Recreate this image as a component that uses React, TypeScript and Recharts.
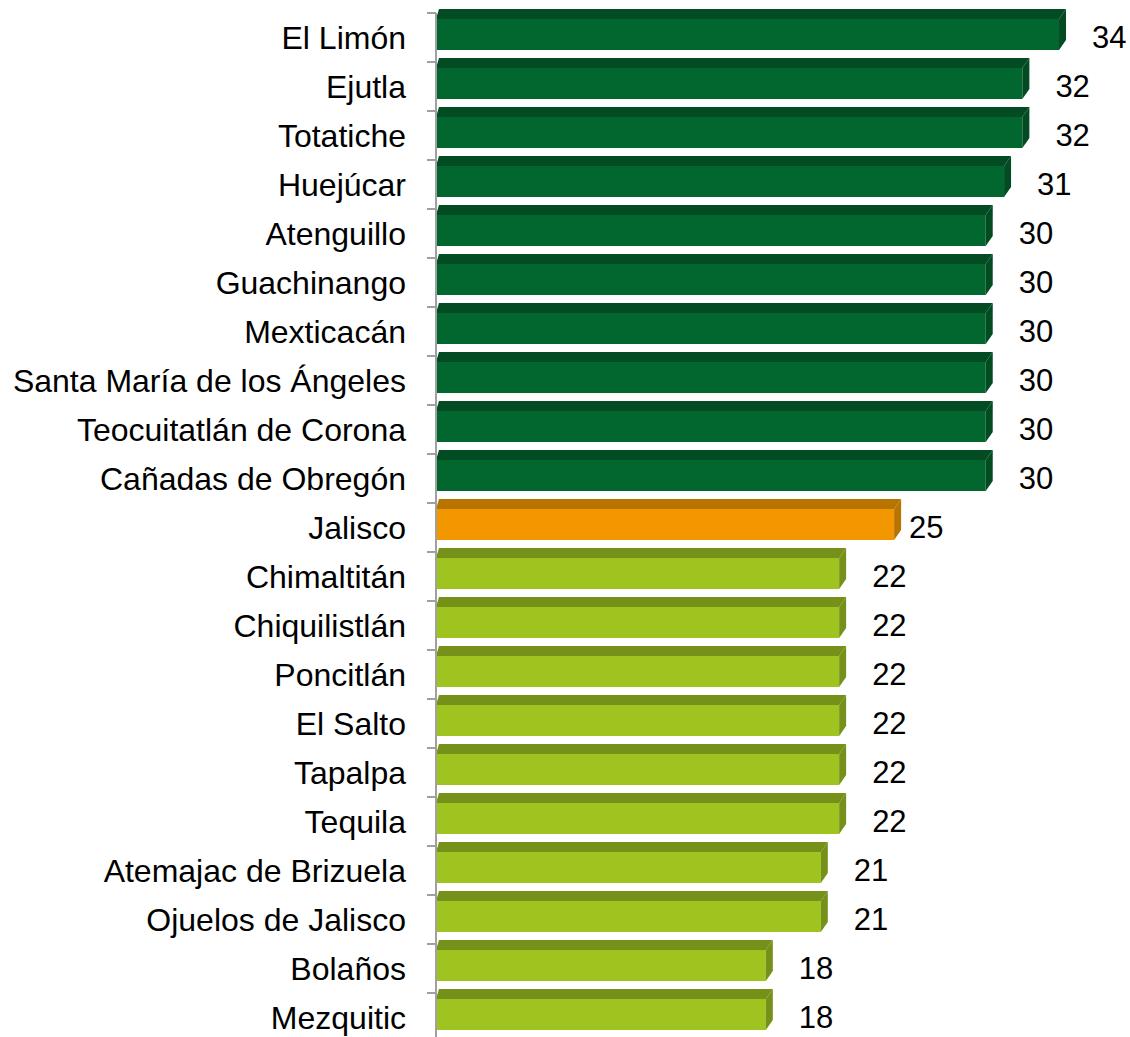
import { Bar, BarChart, Cell, LabelList, XAxis, YAxis } from "recharts"

const municipios = [
  "El Limón",
  "Ejutla",
  "Totatiche",
  "Huejúcar",
  "Atenguillo",
  "Guachinango",
  "Mexticacán",
  "Santa María de los Ángeles",
  "Teocuitatlán de Corona",
  "Cañadas de Obregón",
  "Jalisco",
  "Chimaltitán",
  "Chiquilistlán",
  "Poncitlán",
  "El Salto",
  "Tapalpa",
  "Tequila",
  "Atemajac de Brizuela",
  "Ojuelos de Jalisco",
  "Bolaños",
  "Mezquitic",
]

const valores = [34, 32, 32, 31, 30, 30, 30, 30, 30, 30, 25, 22, 22, 22, 22, 22, 22, 21, 21, 18, 18]

const ESTATAL = "Jalisco"

const data = municipios.map((name, i) => ({ name, value: valores[i] }))
const valorEstatal = valores[municipios.indexOf(ESTATAL)]

// front face / darker top+side face
const colores = {
  arriba: { front: "#02672f", shade: "#034b22" },
  estatal: { front: "#f39700", shade: "#b87400" },
  abajo: { front: "#9fc31f", shade: "#76911a" },
}

function colorDe(name: string, value: number) {
  if (name === ESTATAL) return colores.estatal
  return value > valorEstatal ? colores.arriba : colores.abajo
}

const CHART_W = 1122
const CHART_H = 1040
const AXIS_W = 428
const MARGIN = { top: 5, right: 16, bottom: 6, left: 0 }
const BAND = (CHART_H - MARGIN.top - MARGIN.bottom) / municipios.length
const FONT = "'Liberation Sans', Arial, sans-serif"

const DX = 7
const DY = 10

function Bar3D(props: any) {
  const { x, y, width, height, payload } = props
  const c = colorDe(payload.name, payload.value)
  const fy = y - 3
  const fh = height
  const r = x + width
  return (
    <g>
      <rect x={x} y={fy} width={width} height={fh} fill={c.front} />
      <polygon
        points={`${x},${fy} ${x + 3},${fy - DY} ${r + DX},${fy - DY} ${r},${fy}`}
        fill={c.shade}
      />
      <polygon
        points={`${r},${fy} ${r + DX},${fy - DY} ${r + DX},${fy + fh - DY} ${r},${fy + fh}`}
        fill={c.shade}
      />
    </g>
  )
}

function CategoryTick(props: any) {
  const { x, y, payload } = props
  const axisX = AXIS_W + MARGIN.left
  const top = y - BAND / 2
  return (
    <g>
      <line x1={axisX - 9} y1={top} x2={axisX} y2={top} stroke="#a0a0a0" strokeWidth={2} />
      <text
        x={x}
        y={y}
        dy={11}
        textAnchor="end"
        fontSize={32}
        fontFamily={FONT}
        fill="#000"
      >
        {payload.value}
      </text>
    </g>
  )
}

function ValueLabel(props: any) {
  const { x, y, width, height, value, index } = props
  const gap = municipios[index] === ESTATAL ? 15 : 33
  return (
    <text
      x={x + width + gap}
      y={y + height / 2}
      dy={10}
      fontSize={31}
      fontFamily={FONT}
      fill="#000"
    >
      {value}
    </text>
  )
}

export default function App() {
  // fixed so the taller-than-viewport chart does not add scrollbars
  return (
    <div
      style={{
        position: "fixed",
        top: 8,
        left: 8,
        width: CHART_W,
        height: 1029,
        overflow: "hidden",
        background: "#fff",
      }}
    >
      <BarChart width={CHART_W} height={CHART_H} data={data} layout="vertical" margin={MARGIN}>
        <XAxis type="number" domain={[0, 37]} hide />
        <YAxis
          type="category"
          dataKey="name"
          width={AXIS_W}
          tickLine={false}
          tickSize={0}
          tickMargin={30}
          axisLine={{ stroke: "#a0a0a0", strokeWidth: 2 }}
          tick={<CategoryTick />}
          interval={0}
        />
        <Bar dataKey="value" barSize={31} shape={<Bar3D />} isAnimationActive={false}>
          {data.map((d) => (
            <Cell key={d.name} fill={colorDe(d.name, d.value).front} />
          ))}
          <LabelList dataKey="value" content={<ValueLabel />} />
        </Bar>
      </BarChart>
    </div>
  )
}
